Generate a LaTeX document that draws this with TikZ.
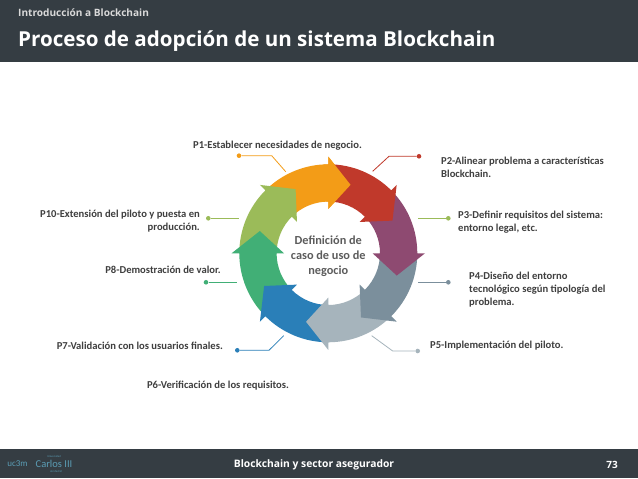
\documentclass[tikz,border=0pt]{standalone}
\usepackage{fontspec}
\setmainfont{Carlito}
\newfontfamily\headfont{Open Sans}
\definecolor{bardark}{HTML}{353D43}
\definecolor{ctext}{HTML}{3F3F3F}
\definecolor{corange}{HTML}{F39C17}
\definecolor{cred}{HTML}{C0392B}
\definecolor{cpurple}{HTML}{8E4A71}
\definecolor{cgray}{HTML}{7B8F9C}
\definecolor{clgray}{HTML}{A6B4BC}
\definecolor{cblue}{HTML}{2A7FB8}
\definecolor{cgreen}{HTML}{41AF76}
\definecolor{clime}{HTML}{9BBB59}
\definecolor{clogo}{HTML}{5B9DB5}
\newcommand{\ringarrow}[2]{%
  \fill[#1] ({#2+45}:89) arc[start angle={#2+45},end angle={#2},radius=89]
    -- ({#2}:96.7) -- ({#2-18}:72) -- ({#2}:44.3) -- ({#2}:51.7)
    arc[start angle={#2},end angle={#2+45},radius=51.7] -- cycle;}
\newcommand{\ringhead}[2]{%
  \fill[#1] ({#2+3}:89) -- ({#2}:89) -- ({#2}:96.7) -- ({#2-18}:72) -- ({#2}:44.3) -- ({#2}:51.7) -- ({#2+3}:51.7) -- cycle;}
\tikzset{
  x=1pt,y=1pt,
  lbl/.style={font=\bfseries\fontsize{10.6}{13}\selectfont,text=ctext,inner sep=0pt},
  lbll/.style={lbl,anchor=west,align=left},
  lblr/.style={lbl,anchor=east,align=right},
  dot/.style={circle,fill=#1,inner sep=0pt,minimum size=4.6pt},
  lead/.style={draw=#1,line width=0.8pt},
}
\begin{document}
\begin{tikzpicture}
\useasboundingbox (0,0) rectangle (638,479);
\fill[white] (0,0) rectangle (638,479);
% bars
\fill[bardark] (0,416.5) rectangle (638,479);
\fill[bardark] (0,1) rectangle (638,30);
\node[anchor=west,inner sep=0pt,text=white!85!black,font=\headfont\bfseries\fontsize{10.1}{12}\selectfont] (sup) at (18,466) {Introducción a Blockchain};
\node[anchor=west,inner sep=0pt,text=white,font=\headfont\bfseries\fontsize{20.6}{24}\selectfont] (title) at (18,437.5) {Proceso de adopción de un sistema Blockchain};
\node[inner sep=0pt,text=white,font=\headfont\bfseries\fontsize{10.3}{12}\selectfont] (foot) at (314,14.5) {Blockchain y sector asegurador};
\node[anchor=east,inner sep=0pt,text=white,font=\headfont\bfseries\fontsize{10}{12}\selectfont] (page) at (618,14.5) {73};
\node[inner sep=0pt,text=clogo,font=\fontsize{9}{10}\selectfont] (logoa) at (17.5,15) {uc3m};
\node[inner sep=0pt,text=clogo,font=\fontsize{10.5}{11}\selectfont] (logob) at (54,15) {Carlos III};
\node[inner sep=0pt,text=clogo,font=\fontsize{2.8}{3}\selectfont] (logoc) at (54,22) {Universidad};
\node[inner sep=0pt,text=clogo,font=\fontsize{2.8}{3}\selectfont] (logod) at (56,7.5) {de Madrid};
% ring
\begin{scope}[shift={(328.3,225.7)}]
\ringarrow{corange}{90}
\ringarrow{clime}{135}
\ringarrow{cgreen}{180}
\ringarrow{cblue}{225}
\ringarrow{clgray}{270}
\ringarrow{cgray}{315}
\ringarrow{cpurple}{360}
\ringarrow{cred}{45}
\ringhead{corange}{90}
\end{scope}
\node[lbl,align=center,text=ctext!85!white,font=\bfseries\fontsize{12.3}{15}\selectfont] (center) at (328.3,223) {Definición de\\caso de uso de\\negocio};
% labels
\node[lbl] (p1) at (277.5,333.8) {P1-Establecer necesidades de negocio.};
\node[lbll] (p2) at (441,311.5) {P2-Alinear problema a características\\Blockchain.};
\node[lbll] (p3) at (458,256.5) {P3-Definir requisitos del sistema:\\entorno legal, etc.};
\node[lbll] (p4) at (469,189) {P4-Diseño del entorno\\tecnológico según tipología del\\problema.};
\node[lbll] (p5) at (430,133) {P5-Implementación del piloto.};
\node[lbl] (p6) at (218,93) {P6-Verificación de los requisitos.};
\node[lblr] (p7) at (223,133) {P7-Validación con los usuarios finales.};
\node[lblr] (p8) at (221,209) {P8-Demostración de valor.};
\node[lblr] (p10) at (200,257.5) {P10-Extensión del piloto y puesta en\\producción.};
% connectors
\node[dot=corange] (d1) at (239,323.3) {};
\coordinate (b1) at (271.7,323.3); \coordinate (e1) at (285.7,307.3);
\draw[lead=corange] (d1) -- (b1) -- (e1);
\node[dot=cred] (d2) at (419,322.7) {};
\coordinate (b2) at (389,322.7); \coordinate (e2) at (372.7,307.7);
\draw[lead=cred] (d2) -- (b2) -- (e2);
\node[dot=clime] (d3) at (448.3,260.7) {};
\coordinate (e3) at (417.7,260.7);
\draw[lead=clime] (d3) -- (e3);
\node[dot=cgray] (d4) at (448.3,196.7) {};
\coordinate (e4) at (417.7,196.7);
\draw[lead=cgray] (d4) -- (e4);
\node[dot=clgray] (d5) at (417.7,128) {};
\coordinate (b5) at (392.7,128); \coordinate (e5) at (371.7,143.3);
\draw[lead=clgray] (d5) -- (b5) -- (e5);
\node[dot=cblue] (d7) at (237.3,128.7) {};
\coordinate (b7) at (269,128.7); \coordinate (e7) at (283.7,143.3);
\draw[lead=cblue] (d7) -- (b7) -- (e7);
\node[dot=cgreen] (d8) at (206,196.7) {};
\coordinate (e8) at (236.7,196.7);
\draw[lead=cgreen] (d8) -- (e8);
\node[dot=clime] (d10) at (208.3,260.7) {};
\coordinate (e10) at (238.7,260.7);
\draw[lead=clime] (d10) -- (e10);
\end{tikzpicture}
\end{document}
